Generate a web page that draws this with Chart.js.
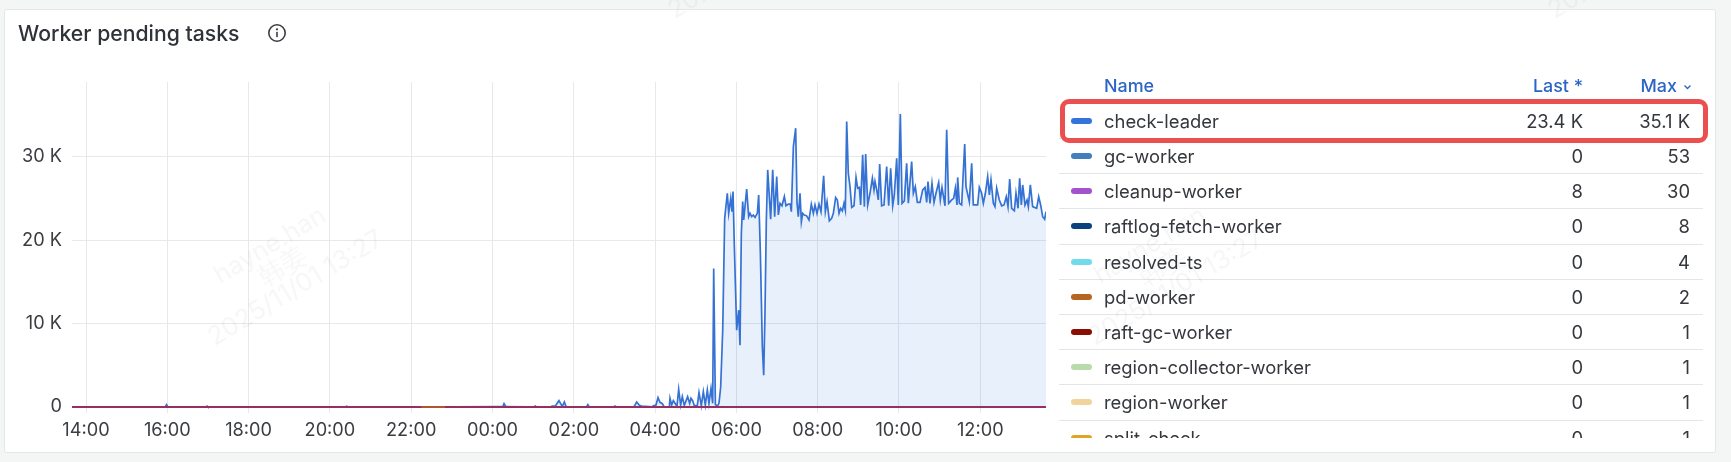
<!DOCTYPE html>
<html><head><meta charset="utf-8">
<script src="https://cdn.jsdelivr.net/npm/chart.js@4"></script>
<style>
html,body{margin:0;padding:0;width:1731px;height:462px;overflow:hidden;background:#f4f6f6;font-family:Inter,sans-serif;color:#34373c}
#panel{position:absolute;left:4px;top:9px;width:1710px;height:442px;background:#fff;border:1px solid #e4e7e7;border-radius:3px;box-sizing:content-box}
#chartWrap{position:absolute;left:0;top:0;width:1731px;height:462px}
#title{position:absolute;left:18px;top:20px;font-size:21.2px;line-height:26px;font-weight:500;color:#2f3237;white-space:nowrap}
#info{position:absolute;left:267px;top:23px}
#legendHead{position:absolute;left:1059px;top:73.5px;width:644px;height:24px;font-size:17.9px;line-height:24px;font-weight:500;color:#2b65c5}
#legendHead span{position:absolute;white-space:nowrap}
#legendClip{position:absolute;left:1059px;top:103.9px;width:644px;height:334px;overflow:hidden}
.row{position:relative;height:35.2px;box-sizing:border-box;border-bottom:1px solid #e3e6e8;font-size:18.4px;line-height:35px}
.row i{position:absolute;left:12px;top:14px;width:21px;height:6px;border-radius:3px}
.row b{position:absolute;left:45px;font-weight:400;white-space:nowrap}
.row u{position:absolute;text-decoration:none;white-space:nowrap}
#hl{position:absolute;left:1060px;top:99px;width:648px;height:44px;box-sizing:border-box;border:5px solid #eb5050;border-radius:9px}
.wm{position:absolute;width:400px;text-align:center;color:#000;opacity:.035;font-size:25.5px;line-height:25px;transform:rotate(-31deg);pointer-events:none;white-space:nowrap}
</style></head><body>
<div id="panel"></div>
<div id="chartWrap"><canvas id="c" width="1731" height="462"></canvas></div>
<div id="title">Worker pending tasks</div>
<svg id="info" width="20" height="20" viewBox="0 0 20 20"><circle cx="10" cy="10" r="8.2" fill="none" stroke="#3a3d42" stroke-width="1.6"/><circle cx="10" cy="6.3" r="1.1" fill="#3a3d42"/><rect x="9.2" y="8.8" width="1.6" height="5.4" rx=".6" fill="#3a3d42"/></svg>
<div id="legendHead"></div>
<div id="legendClip"></div>
<div id="hl"></div>
<div id="wms"></div>
<script>
// Legend table
const names=["check-leader","gc-worker","cleanup-worker","raftlog-fetch-worker","resolved-ts","pd-worker","raft-gc-worker","region-collector-worker","region-worker","split-check"];
const lastLabels=["23.4 K","0","8","0","0","0","0","0","0","0"];
const maxLabels=["35.1 K","53","30","8","4","2","1","1","1","1"];
const colors=["#3274d9","#447ebc","#a352cc","#0a437c","#70dbed","#b7651f","#890f02","#b7dbab","#f2d39b","#e0a526"];

// Axis ticks (minutes after 14:00)
const tickMinutes=[0,120,240,360,480,600,720,840,960,1080,1200,1320];
const tickLabels=["14:00","16:00","18:00","20:00","22:00","00:00","02:00","04:00","06:00","08:00","10:00","12:00"];
const yTicks=[0,10000,20000,30000];
const xMin=-20.7, xMax=1417, yMax=38930;

// check-leader: minutes after 14:00 and pending tasks
const leaderTimes=[-20.7,117,118.8,121,177,178.6,180,383,384.8,387,615,617,620,661,663,665,686,688,693,698,703,706,708.6,739,740.7,743,779,780.8,783,808,809.4,812.8,816.8,820,836,837.4,841.3,844.3,847.2,850.7,853.1,861,862,864.4,866.9,869.4,872.3,874.8,877.7,880.2,883.1,888,891,893,895.4,897.9,902.3,904.8,908.2,911.2,914.1,917.1,919.5,922.5,925,926.5,929,931.9,934.3,936.8,939.8,942.7,946.6,948.6,951.6,953.5,955,957,960.4,963.4,965.3,967.3,969.3,970.8,975.2,978.1,980.1,982.6,985,987.5,990.9,992.9,995.4,998.3,1000.3,1002.2,1004.2,1006.2,1010.6,1013.6,1016.5,1019.5,1021.9,1024.4,1027.3,1030.8,1033.2,1036.7,1039.6,1041.1,1044.1,1047.5,1049.5,1051.4,1053.9,1055.9,1057.8,1060.3,1063.7,1067.2,1070.6,1073.6,1076,1079,1081.9,1084.9,1088.8,1091.3,1093.8,1097.2,1100.6,1103.1,1106.5,1109,1111.5,1113.9,1116.4,1118.8,1120.8,1122.8,1125.2,1127.7,1130.2,1133.6,1136.6,1139,1141.5,1143.4,1146.4,1148.9,1150.8,1153.8,1157.2,1160.7,1163.1,1164.6,1167.1,1169.5,1171.5,1174.4,1177.9,1181.8,1184.8,1187.7,1190.7,1193.1,1196.6,1199,1202,1204.5,1207.9,1211.3,1213.8,1218.7,1221.2,1224.1,1227.1,1231,1235,1238.4,1240.9,1242.8,1245.8,1248.7,1251.7,1254.6,1258.6,1261,1263.5,1267.9,1270.4,1273.3,1277.8,1280.7,1283.2,1285.6,1286.6,1289.1,1292.5,1297,1298.9,1303.8,1307.3,1309.7,1316.1,1318.6,1322,1324.5,1327.5,1330.9,1333.4,1335.8,1339.3,1341.7,1344.2,1348.1,1351.6,1355,1358.4,1360.9,1363.4,1366.3,1370.3,1372.7,1375.7,1378.1,1380.6,1382.6,1386,1389,1390.9,1393.9,1397.3,1403.2,1406.2,1409.1,1412.1,1415,1417];
const leaderValues=[0,0,280,0,0,100,0,0,100,0,0,400,0,0,120,0,0,100,150,760,60,600,40,0,280,0,0,120,0,0,100,600,200,100,30,150,240,1120,560,400,30,30,1040,240,760,440,80,2120,240,1240,200,1240,440,1040,760,160,160,1720,160,1840,240,2040,440,2240,440,16600,300,100,440,2400,9200,22600,25600,23200,25000,23400,25800,19200,9200,11600,7400,20800,24600,22400,26100,22800,23200,22800,23000,22700,23200,25400,18400,7200,3800,11200,22400,28400,22500,28400,22800,27600,23000,24400,24100,25200,24100,24300,24300,23400,31200,33400,24400,22800,25600,22200,23200,23000,22900,22400,24300,23200,24200,23200,24300,23400,27700,23400,24600,22300,22600,23200,25100,24800,23200,23800,23500,24400,23600,34200,28000,26400,23900,24100,27500,26200,26300,24200,30200,24000,30300,24200,25600,27400,26000,27000,26000,24800,29100,24100,24200,28800,24100,28600,24100,25400,29800,24200,35100,24400,24700,29200,24400,29400,25600,26400,24500,24500,26000,26300,24500,27000,24400,26800,24500,25600,26900,24800,26300,24100,33200,24400,24800,25000,26200,24200,27500,24400,24200,31500,26400,24600,29200,24200,24200,26300,25600,24400,25600,27600,25400,27200,24400,24000,26200,24800,24100,24200,25200,24000,27300,23800,23500,25600,23800,27400,24200,26600,24200,24800,24000,26600,24000,23800,25200,24200,22800,22500,23400];

// Other workers, all close to zero
const workerTimes=[-20.7,120,300,480,610,700,860,1000,1200,1417];
const gcValues=[0,2,0,4,53,8,3,0,6,0];
const cleanupValues=[4,10,6,12,8,30,14,6,10,8];
const raftlogValues=[0,0,1,0,8,0,2,0,1,0];
const resolvedValues=[0,1,0,4,0,1,0,2,0,0];
const raftGcValues=[0,0,1,0,0,1,0,0,0,0];
const collectorValues=[0,0,0,1,0,0,0,0,1,0];
const regionValues=[0,1,0,0,0,0,1,0,0,0];
const splitValues=[0,0,0,0,1,0,0,1,0,0];
const pdTimes=[495,510,530];
const pdValues=[2,2,2];

const zip=(t,v)=>t.map((x,i)=>({x,y:v[i]}));
const line=(i,t,v,order)=>({label:names[i],data:zip(t,v),borderColor:colors[i],borderWidth:1.5,pointRadius:0,tension:0,fill:false,clip:false,order});
const leader=line(0,leaderTimes,leaderValues,9);
leader.fill='origin';leader.backgroundColor='rgba(50,116,217,0.11)';leader.borderWidth=1.7;leader.borderColor='#3572d4';
leader.clip={left:0,right:0,top:0,bottom:false};
const raftGc=line(6,workerTimes,raftGcValues,1);
raftGc.borderColor='rgba(160,20,40,0.82)';

new Chart(document.getElementById('c'),{
  type:'line',
  data:{datasets:[
    line(9,workerTimes,splitValues,8),
    line(8,workerTimes,regionValues,7),
    line(7,workerTimes,collectorValues,6),
    line(4,workerTimes,resolvedValues,5),
    line(3,workerTimes,raftlogValues,4),
    line(1,workerTimes,gcValues,3),
    line(2,workerTimes,cleanupValues,2),
    raftGc,
    line(5,pdTimes,pdValues,0),
    leader
  ]},
  options:{
    responsive:false,animation:false,events:[],
    layout:{padding:{left:8,right:685,top:82,bottom:25}},
    plugins:{legend:{display:false},tooltip:{enabled:false},title:{display:false}},
    scales:{
      x:{type:'linear',min:xMin,max:xMax,
        afterBuildTicks:a=>{a.ticks=tickMinutes.map(value=>({value}))},
        afterFit:a=>{a.height=30},
        grid:{color:'#e6e8ea',lineWidth:1,drawTicks:true,tickLength:6,drawOnChartArea:true},
        border:{display:false},
        ticks:{autoSkip:false,maxRotation:0,padding:7,color:'#3a3d42',font:{family:'Inter',size:18.2},
          callback:v=>tickLabels[tickMinutes.indexOf(v)]}},
      y:{type:'linear',min:0,max:yMax,
        afterBuildTicks:a=>{a.ticks=yTicks.map(value=>({value}))},
        afterFit:a=>{a.width=64},
        grid:{color:'#e6e8ea',lineWidth:1,drawTicks:false},
        border:{display:false},
        ticks:{padding:10,color:'#3a3d42',font:{family:'Inter',size:18.2},
          callback:v=>v===0?'0':(v/1000)+' K'}}
    }
  }
});

// Legend rendering
const head=document.getElementById('legendHead');
head.innerHTML='<span style="left:45px">Name</span><span style="right:120px">Last *</span><span style="right:26px">Max</span>'+
 '<svg style="position:absolute;right:11px;top:10px" width="9" height="6" viewBox="0 0 9 6"><path d="M1.5 1.5 L4.5 4.5 L7.5 1.5" fill="none" stroke="#2b65c5" stroke-width="1.3"/></svg>';
document.getElementById('legendClip').innerHTML=names.map((n,i)=>
 `<div class="row"><i style="background:${colors[i]}"></i><b>${n}</b><u style="right:120px">${lastLabels[i]}</u><u style="right:13px">${maxLabels[i]}</u></div>`).join('');

// Faint watermark
const wmCentres=[[282,266],[1162,266],[742,-61],[1622,-61]];
document.getElementById('wms').innerHTML=wmCentres.map(([x,y])=>
 `<div class="wm" style="left:${x-200}px;top:${y-38}px">hayne.han<br>韩姜<br>2025/11/01 13:27</div>`).join('');
</script>
</body></html>
